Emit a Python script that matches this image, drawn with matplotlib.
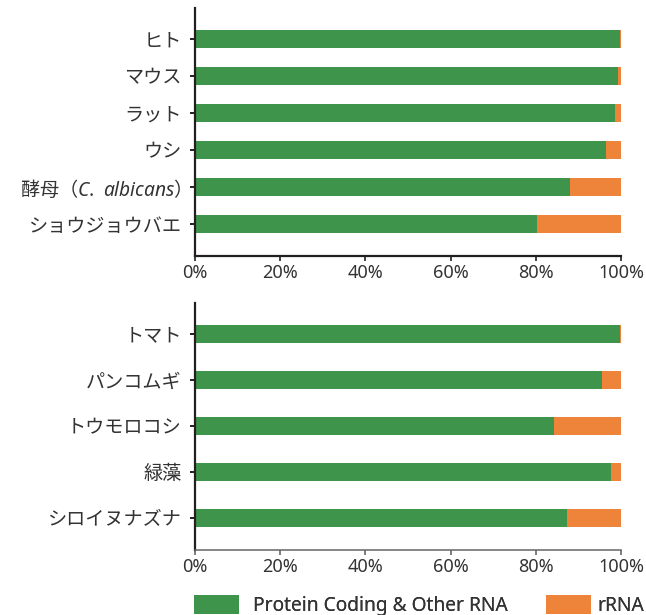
import matplotlib
matplotlib.use("Agg")
import matplotlib.pyplot as plt
from matplotlib.patches import Patch
from matplotlib.ticker import PercentFormatter

plt.rcParams['font.family'] = ['Noto Sans', 'Noto Sans CJK JP', 'DejaVu Sans']
plt.rcParams['mathtext.fontset'] = 'custom'
plt.rcParams['mathtext.it'] = 'Noto Sans:italic'
plt.rcParams['mathtext.rm'] = 'Noto Sans CJK JP'

# Data (percent of reads)
animals = ["ヒト", "マウス", "ラット", "ウシ", r"$\mathrm{酵母（}\mathit{C.\ albicans}\mathrm{）}$", "ショウジョウバエ"]
animals_protein = [99.8, 99.3, 98.6, 96.5, 88.0, 80.3]
plants = ["トマト", "パンコムギ", "トウモロコシ", "緑藻", "シロイヌナズナ"]
plants_protein = [99.8, 95.5, 84.3, 97.7, 87.3]
series_names = ["Protein Coding & Other RNA", "rRNA"]
x_ticks = [0, 20, 40, 60, 80, 100]

GREEN = "#3e944a"
ORANGE = "#ee833a"
DARK = "#231f20"
TEXT = "#333333"
FS_X = 13
FS_Y = 13.8
FS_L = 13.8

W, H = 646, 615
fig = plt.figure(figsize=(W / 100, H / 100), dpi=100)

def ax_rect(x0, y0, x1, y1):
    return [x0 / W, 1 - y1 / H, (x1 - x0) / W, (y1 - y0) / H]

ax1 = fig.add_axes(ax_rect(195, 8, 621, 256))
ax2 = fig.add_axes(ax_rect(195, 303, 621, 550))

def draw(ax, cats, prot, height, ylim, bottom_color, bottom_lw):
    ys = list(range(len(cats)))
    rr = [100 - p for p in prot]
    ax.barh(ys, prot, height=height, color=GREEN, linewidth=0)
    ax.barh(ys, rr, left=prot, height=height, color=ORANGE, linewidth=0)
    ax.set_xlim(0, 100)
    ax.set_ylim(*ylim)
    ax.set_yticks(ys)
    ax.set_yticklabels(cats)
    ax.set_xticks(x_ticks)
    ax.xaxis.set_major_formatter(PercentFormatter(decimals=0))
    for s in ["top", "right"]:
        ax.spines[s].set_visible(False)
    ax.spines["left"].set_color(DARK)
    ax.spines["left"].set_linewidth(1.6)
    ax.spines["bottom"].set_color(bottom_color)
    ax.spines["bottom"].set_linewidth(bottom_lw)
    ax.tick_params(axis="y", length=3.5, width=1.4, color=DARK, labelsize=FS_Y,
                   labelcolor=TEXT, pad=6)
    ax.tick_params(axis="x", length=3.5, width=1.2, color=bottom_color, labelsize=FS_X,
                   labelcolor=TEXT, pad=2)

draw(ax1, animals, animals_protein, 0.48, (5.86, -0.84), DARK, 1.6)
draw(ax2, plants, plants_protein, 0.385, (4.7, -0.67), "#666666", 1.1)

# Two single-entry legends to match the reference's spacing
for color, name, x0, pad in [(GREEN, series_names[0], 194, 0.73),
                             (ORANGE, series_names[1], 546, 0.36)]:
    leg = fig.legend([Patch(facecolor=color, edgecolor="none")], [name],
                     loc="upper left", bbox_to_anchor=(x0 / W, 1 - 595 / H),
                     frameon=False, fontsize=FS_L, handlelength=2.34,
                     handleheight=1.15, handletextpad=pad, borderpad=0,
                     borderaxespad=0, labelcolor=TEXT)
    fig.add_artist(leg)

fig.savefig("out.png", dpi=100)
